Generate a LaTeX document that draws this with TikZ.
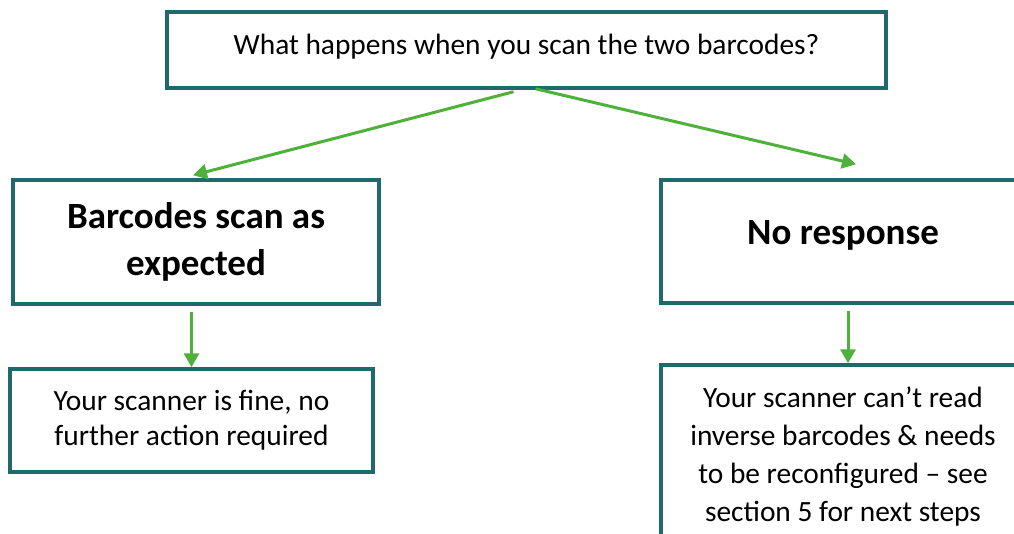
\documentclass[tikz,border=0pt]{standalone}
\usepackage{fontspec}
\setmainfont{Carlito}
\usetikzlibrary{arrows.meta}
\definecolor{boxteal}{RGB}{31,104,108}
\definecolor{arrowgreen}{RGB}{78,178,58}

\begin{document}
\begin{tikzpicture}[x=1pt,y=-1pt,
  box/.style={draw=boxteal, line width=3.5pt, rectangle, align=center, inner sep=0pt},
  arr/.style={draw=arrowgreen, line width=3pt, -{Triangle[width=15pt,length=14pt]}},
  plain/.style={font=\fontsize{29.4}{35}\selectfont},
  heading/.style={font=\fontsize{37}{47}\selectfont\bfseries}]
\clip (0,0) rectangle (1014,533);
\fill[white] (0,0) rectangle (1014,533);
% question on top
\node[box, plain, minimum width=719pt, minimum height=76pt, text depth=12pt] (q) at (526.5,50) {What happens when you scan the two barcodes?};
% the two outcomes
\node[box, heading, minimum width=366pt, minimum height=124pt] (ok) at (196,242) {Barcodes scan as\\expected};
\node[box, heading, minimum width=364pt, minimum height=123pt, text depth=18pt] (none) at (843,241.5) {No response};
% what to do next
\node[box, plain, minimum width=363pt, minimum height=103pt] (fine) at (191.5,420.5) {Your scanner is fine, no\\further action required};
\node[box, plain, font=\fontsize{29.4}{38}\selectfont, minimum width=364pt, minimum height=182pt] (fix) at (843,456) {Your scanner can’t read\\inverse barcodes \& needs\\to be reconfigured – see\\section 5 for next steps};
\draw[arr] ([xshift=-13pt,yshift=-2pt]q.south) -- ([xshift=-3pt,yshift=3pt]ok.north);
\draw[arr] ([xshift=9pt,yshift=1pt]q.south) -- ([xshift=13pt,yshift=14pt]none.north);
\draw[arr] ([yshift=-6pt]fine.north |- ok.south) -- (fine.north);
\draw[arr] ([xshift=5pt,yshift=-6pt]none.south) -- ([xshift=5pt]fix.north);
\end{tikzpicture}
\end{document}
